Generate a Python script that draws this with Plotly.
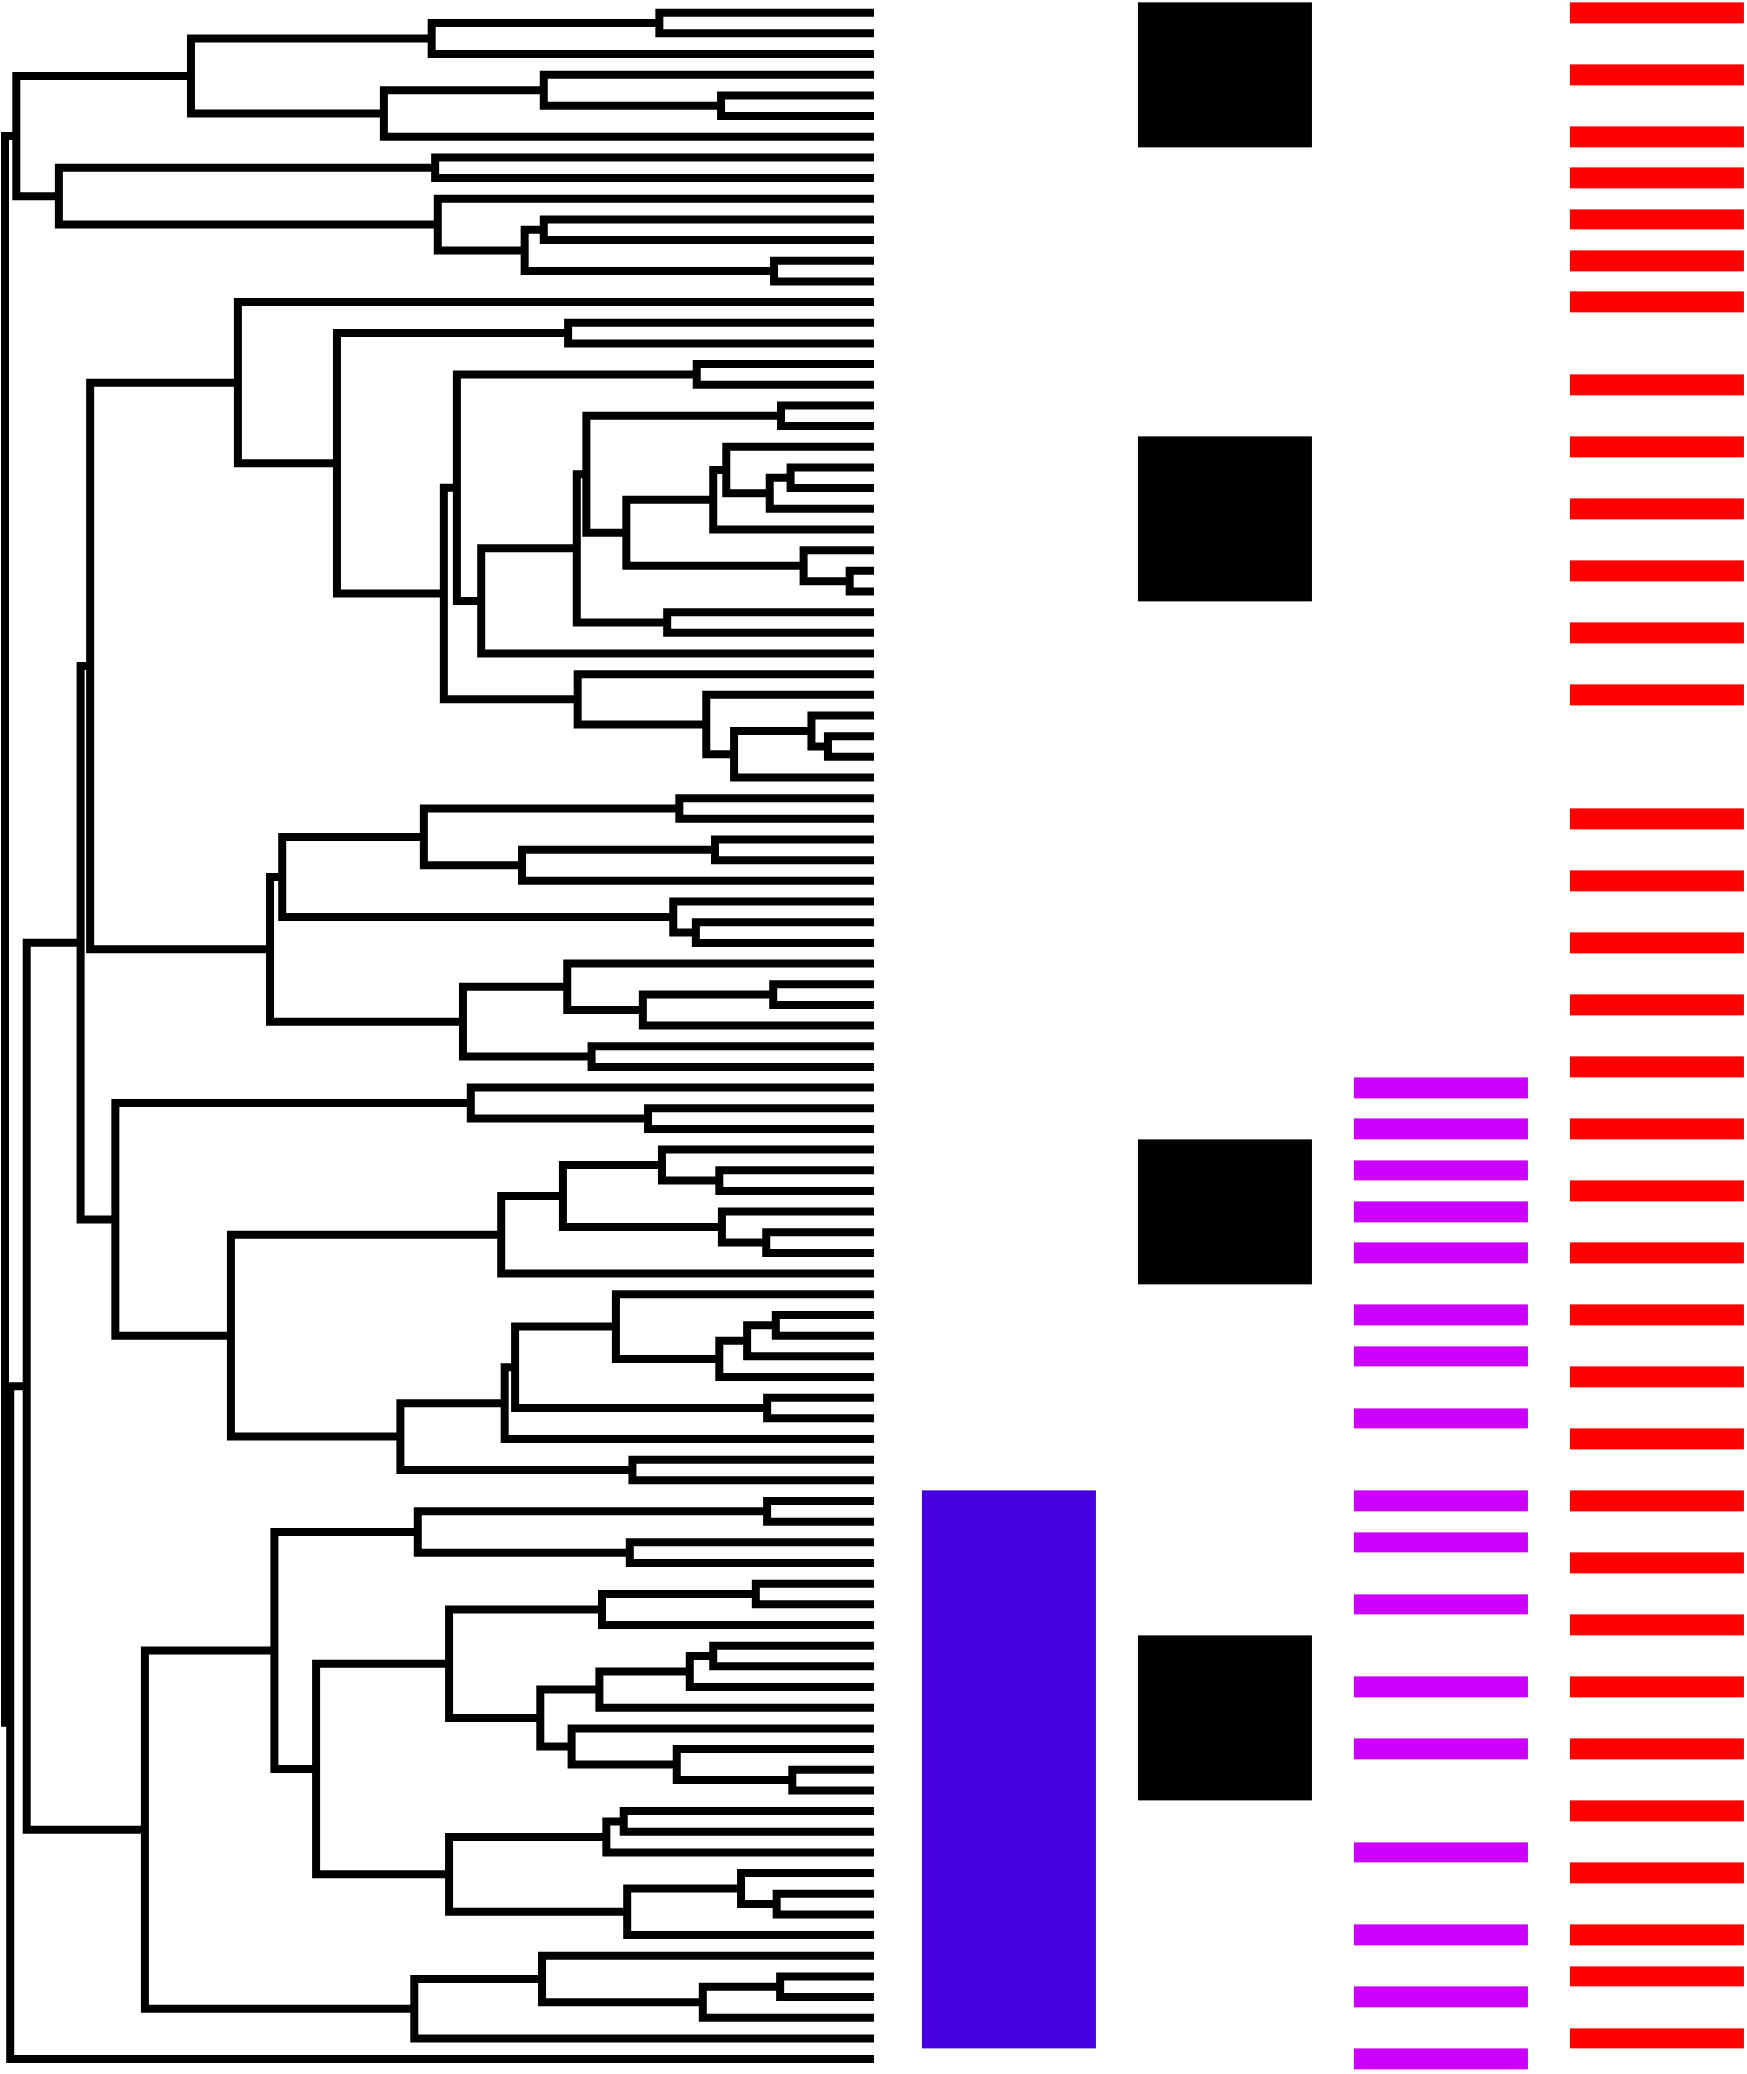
import plotly.graph_objects as go

n_leaves = 100

# merges, linkage style: merge k creates node 100 + k from link_a[k] and link_b[k]
link_a = [0, 100, 4, 3, 103, 101, 7, 10, 12, 107, 9, 106, 105,
          15, 17, 19, 22, 116, 21, 118, 27, 26, 119, 115, 29, 123, 125, 114,
          35, 34, 129, 33, 32, 127, 113, 14,
          38, 40, 137, 136, 44, 43, 139, 47, 143, 46, 50, 145, 142, 135,
          53, 52, 56, 55, 59, 58, 153, 156, 63, 158, 159, 62, 67, 161, 163,
          70, 164, 157, 151, 149,
          72, 74, 170, 76, 173, 79, 175, 176, 85, 84, 83, 177, 174, 87, 183,
          91, 90, 186, 184, 182, 172, 95, 191, 94, 193, 190, 169, 196, 112]
link_b = [1, 2, 5, 102, 6, 104, 8, 11, 13, 108, 109, 110, 111,
          16, 18, 20, 23, 24, 117, 25, 28, 120, 121, 122, 30, 124, 31, 126,
          36, 128, 37, 130, 131, 132, 133, 134,
          39, 41, 42, 138, 45, 140, 141, 48, 49, 144, 51, 146, 147, 148,
          54, 150, 57, 152, 60, 154, 155, 61, 64, 65, 66, 160, 68, 162, 69,
          71, 165, 166, 167, 168,
          73, 75, 171, 77, 78, 80, 81, 82, 86, 178, 179, 180, 181, 88, 89,
          92, 185, 93, 187, 188, 189, 96, 97, 192, 98, 194, 195, 99, 197]
link_h = [0.247, 0.509, 0.176, 0.380, 0.564, 0.786, 0.505, 0.380, 0.115, 0.402, 0.502, 0.938, 0.987,
          0.352, 0.204, 0.107, 0.096, 0.120, 0.170, 0.185, 0.028, 0.081, 0.285, 0.331, 0.238, 0.342,
          0.452, 0.480, 0.053, 0.072, 0.161, 0.193, 0.341, 0.495, 0.618, 0.732,
          0.224, 0.183, 0.405, 0.518, 0.205, 0.231, 0.681, 0.116, 0.266, 0.353, 0.325, 0.473, 0.695,
          0.902, 0.260, 0.464, 0.178, 0.244, 0.124, 0.175, 0.358, 0.429, 0.113, 0.146, 0.178, 0.297,
          0.123, 0.413, 0.425, 0.278, 0.545, 0.740, 0.873, 0.913,
          0.123, 0.281, 0.525, 0.136, 0.313, 0.185, 0.212, 0.316, 0.094, 0.227, 0.348, 0.384, 0.489,
          0.288, 0.308, 0.112, 0.153, 0.284, 0.489, 0.642, 0.690, 0.108, 0.197, 0.382, 0.529, 0.839,
          0.975, 0.994, 1.000]

# annotation columns (leaf rows that are marked)
blue_rows = [72, 73, 74, 75, 76, 77, 78, 79, 80, 81, 82, 83, 84, 85, 86, 87, 88, 89,
             90, 91, 92, 93, 94, 95, 96, 97, 98]
black_rows = [0, 1, 2, 3, 4, 5, 6, 21, 22, 23, 24, 25, 26, 27, 28,
              55, 56, 57, 58, 59, 60, 61, 79, 80, 81, 82, 83, 84, 85, 86]
purple_rows = [52, 54, 56, 58, 60, 63, 65, 68, 72, 74, 77, 81, 84, 89, 93, 96, 99]
red_rows = [0, 3, 6, 8, 10, 12, 14, 18, 21, 24, 27, 30, 33, 39, 42, 45, 48, 51, 54,
            57, 60, 63, 66, 69, 72, 75, 78, 81, 84, 87, 90, 93, 95, 98]

# build dendrogram segments
node_x = [0.0] * n_leaves
node_y = [float(i) for i in range(n_leaves)]
xs, ys = [], []
for a, b, h in zip(link_a, link_b, link_h):
    xa, ya = node_x[a], node_y[a]
    xb, yb = node_x[b], node_y[b]
    xs += [xa, h, h, xb, None]
    ys += [ya, ya, yb, yb, None]
    node_x.append(h)
    node_y.append((ya + yb) / 2)

fig = go.Figure()
fig.add_trace(go.Scatter(x=xs, y=ys, mode="lines",
                         line=dict(color="black", width=8),
                         hoverinfo="skip", showlegend=False))

cols = [blue_rows, black_rows, purple_rows, red_rows]
z = []
for r in range(n_leaves):
    z.append([c + 1 if r in rows else None for c, rows in enumerate(cols)])

fig.add_trace(go.Heatmap(
    z=z, x=[0, 1, 2, 3], y=list(range(n_leaves)),
    xaxis="x2", yaxis="y",
    zmin=1, zmax=4, showscale=False, xgap=42, ygap=0,
    colorscale=[[0, "#4700E0"], [0.17, "#4700E0"], [0.17, "#000000"], [0.5, "#000000"],
                [0.5, "#CC00FF"], [0.83, "#CC00FF"], [0.83, "#FF0000"], [1, "#FF0000"]],
    hoverinfo="skip"))

fig.update_layout(
    width=1747, height=2074,
    margin=dict(l=0, r=0, t=0, b=0, pad=0),
    paper_bgcolor="white", plot_bgcolor="white",
    xaxis=dict(range=[1.00575, -1.0046], visible=False, showgrid=False, zeroline=False),
    xaxis2=dict(range=[-4.671, 3.417], overlaying="x", visible=False,
                showgrid=False, zeroline=False),
    yaxis=dict(range=[99.72, -0.614], visible=False, showgrid=False, zeroline=False),
    hovermode=False,
)

fig.write_html("out.html", config={"displayModeBar": False},
               post_script="document.body.style.margin='0';")
